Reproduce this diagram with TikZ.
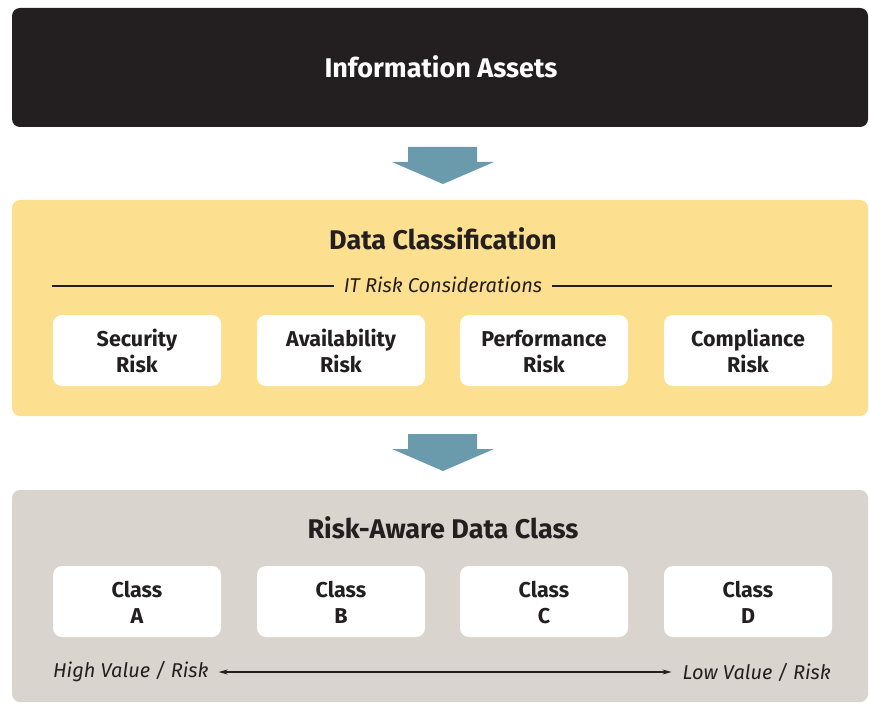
\documentclass[tikz,border=0pt]{standalone}
\usepackage{fontspec}
\setmainfont{Fira Sans}
\usetikzlibrary{arrows.meta}

\definecolor{inkdark}{HTML}{231F20}
\definecolor{sandyellow}{HTML}{FDE08F}
\definecolor{stonegray}{HTML}{DAD4CF}
\definecolor{steelblue}{HTML}{6A9BAD}

\newcommand{\twolines}[2]{\strut #1\\\smash{#2}}

\begin{document}
\begin{tikzpicture}[x=1pt,y=-1pt]

        \tikzset{
            panel/.style={rounded corners=8pt, minimum width=856pt, inner sep=0pt},
            title/.style={font=\fontsize{27}{30}\selectfont\bfseries, text=inkdark},
            riskbox/.style={fill=white, rounded corners=9pt, minimum width=168pt,
                minimum height=71pt, align=center, text=inkdark, inner sep=0pt,
                font=\fontsize{21.5}{25.5}\selectfont\bfseries},
            note/.style={font=\fontsize{20}{24}\selectfont\itshape, text=inkdark, inner sep=0pt},
            rule/.style={line width=1.4pt, inkdark},
            valuescale/.style={<->, >={Stealth[length=9pt,width=5pt]}, line width=1.1pt, inkdark}
        }

        \useasboundingbox (0,0) rectangle (869,703);

        % panels
        \node[panel, fill=inkdark, minimum height=119pt] (assets) at (440,67.5) {};
        \node[panel, fill=sandyellow, minimum height=216pt] (classif) at (440,308) {};
        \node[panel, fill=stonegray, minimum height=212pt] (aware) at (440,596) {};

        \node[title, text=white] at (441,67) {Information Assets};
        \node[title] at (443,239) {Data Classification};
        \node[title] at (443,528) {Risk-Aware Data Class};

        % block arrows
        \foreach \y in {147,434} {
            \fill[steelblue] (408,\y) -- (477,\y) -- (477,\y+15) -- (494,\y+15)
                -- (443,\y+37) -- (392,\y+15) -- (408,\y+15) -- cycle;
        }

        % IT risk considerations
        \node[note] (itrc) at (443,285) {IT Risk Considerations};
        \coordinate (ruleL) at (52,286);
        \coordinate (ruleR) at (832,286);
        \draw[rule] (ruleL) -- ([xshift=-10pt]itrc.west |- ruleL);
        \draw[rule] ([xshift=10pt]itrc.east |- ruleR) -- (ruleR);

        \node[riskbox] (sec) at (137,350.5) {\twolines{Security}{Risk}};
        \node[riskbox] (avail) at (341,350.5) {\twolines{Availability}{Risk}};
        \node[riskbox] (perf) at (544,350.5) {\twolines{Performance}{Risk}};
        \node[riskbox] (comp) at (748,350.5) {\twolines{Compliance}{Risk}};

        \node[riskbox] (clA) at (137,601.5) {\twolines{Class}{A}};
        \node[riskbox] (clB) at (341,601.5) {\twolines{Class}{B}};
        \node[riskbox] (clC) at (544,601.5) {\twolines{Class}{C}};
        \node[riskbox] (clD) at (748,601.5) {\twolines{Class}{D}};

        % value scale
        \node[note, anchor=west] (high) at (53,672) {High Value / Risk};
        \node[note, anchor=east] (low) at (831,672) {Low Value / Risk};
        \draw[valuescale] ([xshift=10pt]high.east) -- ([xshift=-11pt]low.west);

    \end{tikzpicture}
\end{document}
